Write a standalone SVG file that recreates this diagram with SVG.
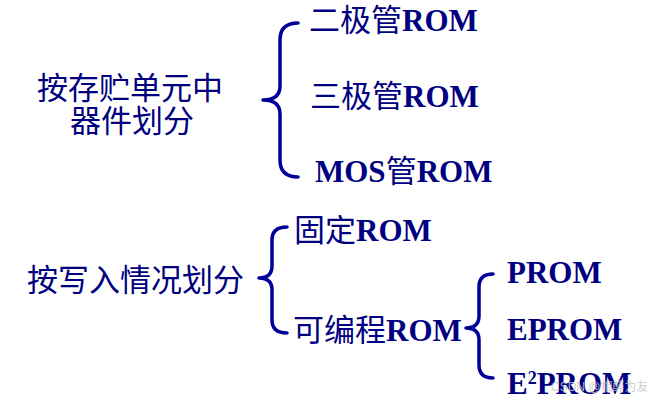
<svg xmlns="http://www.w3.org/2000/svg" width="647" height="402" viewBox="0 0 647 402">
<style>
.t{font-family:"Liberation Serif","Noto Sans CJK SC",serif;font-size:31px;fill:#000080}
.b{font-weight:bold}
.br{fill:none;stroke:#00009a;stroke-width:3.5;stroke-linecap:round;stroke-linejoin:round}
.wm{font-family:"Liberation Sans","Noto Sans CJK SC",sans-serif;font-size:12px;fill:#c8c8c8;opacity:0.85}
</style>
<rect width="647" height="402" fill="#ffffff"/>
<g id="connectors">
<path class="br" d="M298,23 Q280,23 280,40 L280,86 Q280,100 263,100 Q280,100 280,114 L280,160 Q280,177 298,177"/>
<path class="br" d="M287,227 Q272,227 272,240 L272,266 Q272,278 259,278 Q272,278 272,290 L272,320 Q272,333 287,333"/>
<path class="br" d="M493,274 Q479,274 479,287 L479,316 Q479,328 466,328 Q479,328 479,340 L479,365 Q479,378 493,378"/>
</g>
<g id="node-storage">
<text class="t" x="130" y="99" text-anchor="middle">按存贮单元中</text>
<text class="t" x="132" y="132" text-anchor="middle">器件划分</text>
</g>
<g id="node-diode"><text class="t" x="309" y="31">二极管<tspan class="b">ROM</tspan></text></g>
<g id="node-triode"><text class="t" x="310" y="107">三极管<tspan class="b">ROM</tspan></text></g>
<g id="node-mos"><text class="t" x="315" y="182"><tspan class="b">MOS</tspan>管<tspan class="b">ROM</tspan></text></g>
<g id="node-write"><text class="t" x="27" y="291">按写入情况划分</text></g>
<g id="node-fixed"><text class="t" x="294" y="241">固定<tspan class="b">ROM</tspan></text></g>
<g id="node-prog"><text class="t" x="293" y="341">可编程<tspan class="b">ROM</tspan></text></g>
<g id="node-prom"><text class="t b" x="507" y="283">PROM</text></g>
<g id="node-eprom"><text class="t b" x="507" y="340">EPROM</text></g>
<g id="node-e2prom"><text class="t b" x="507" y="394">E<tspan font-size="18" dy="-10">2</tspan><tspan dy="10">PROM</tspan></text></g>
<text class="wm" x="551" y="391">CSDN @相醉为友</text>
</svg>
